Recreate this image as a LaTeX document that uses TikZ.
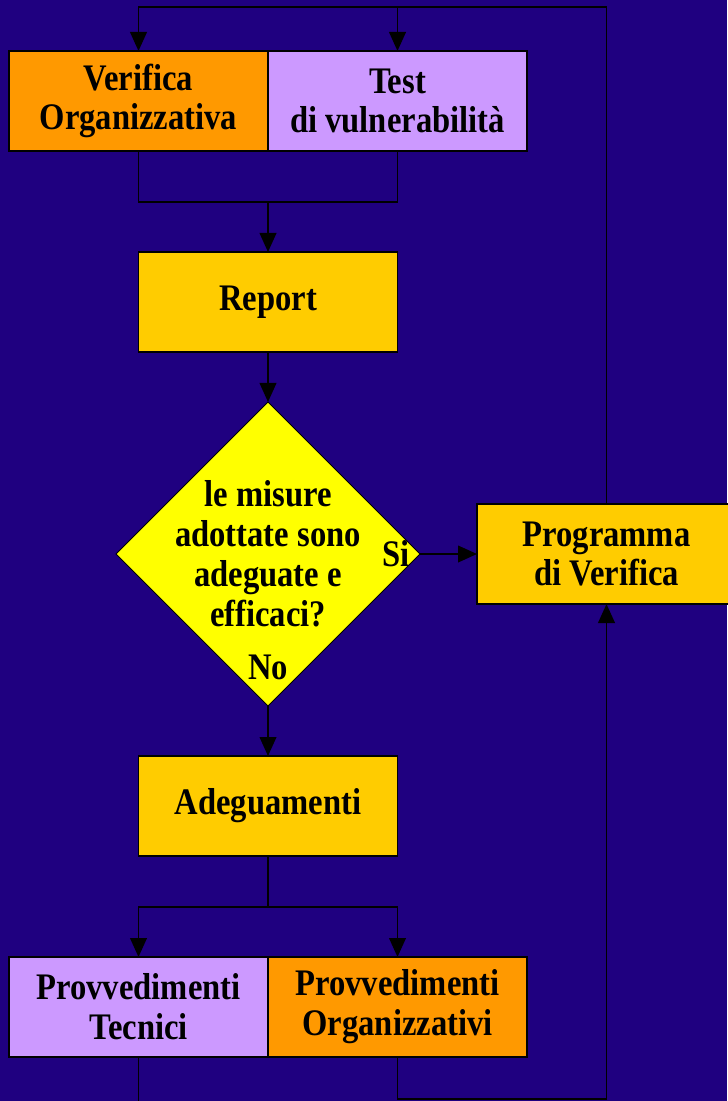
\documentclass[tikz,border=0pt]{standalone}
\usepackage{fontspec}
\setmainfont{Liberation Serif}[FakeStretch=0.87]
\usetikzlibrary{positioning}
\usetikzlibrary{calc}
\usetikzlibrary{shapes.geometric}
\usetikzlibrary{arrows.meta}

\definecolor{bgblue}{RGB}{31,0,128}
\definecolor{orangebox}{RGB}{255,153,0}
\definecolor{lilacbox}{RGB}{204,153,255}
\definecolor{goldbox}{RGB}{255,204,0}
\definecolor{yellowbox}{RGB}{255,255,0}

\begin{document}
\begin{tikzpicture}
	\tikzstyle{elem} = [rectangle, minimum width=7.77cm, minimum height=3cm, align=center, draw=black, line width=1.6pt, inner sep=0pt, outer sep=0pt, font=\fontsize{32}{34}\selectfont\bfseries]
	\tikzstyle{decision} = [diamond, aspect=1, minimum width=9.12cm, minimum height=9.12cm, inner sep=0pt, outer sep=0pt, draw=black, line width=0.8pt, fill=yellowbox]
	\tikzstyle{lbl} = [inner sep=0pt, align=center, font=\fontsize{32}{34}\selectfont\bfseries]
	\tikzstyle{conn} = [line width=1.6pt, draw=black]
	\tikzstyle{arr} = [conn, -{Triangle[length=0.57cm, width=0.5cm]}]

	\fill[bgblue] (0,0) rectangle (21.81,-33.03);
	\useasboundingbox (0,0) rectangle (21.81,-33.03);

	\node (verOrg) [elem, fill=orangebox] at (4.155,-3.03) {Verifica \\ Organizzativa};
	\node (testVuln) [elem, fill=lilacbox, right=0pt of verOrg] {Test \\ di vulnerabilità};
	\node (report) [elem, fill=goldbox, below=3.03cm of verOrg.south east] {Report};
	\node (check) [decision, below=1.5cm of report] {};
	\node (question) [lbl] at (check) {le misure \\ adottate sono \\ adeguate e \\ efficaci?};
	\node (si) [lbl, left=0.3cm of check.east] {Si};
	\node (no) [lbl, above=0.78cm of check.south] {No};
	\node (progVer) [elem, fill=goldbox, right=1.71cm of check] {Programma \\ di Verifica};
	\node (adeg) [elem, fill=goldbox, below=1.5cm of check] {Adeguamenti};
	\node (provTec) [elem, fill=lilacbox, below left=3.03cm and 0cm of adeg.south] {Provvedimenti \\ Tecnici};
	\node (provOrg) [elem, fill=orangebox, right=0pt of provTec] {Provvedimenti \\ Organizzativi};

	\coordinate (loopTop) at ($(verOrg.north)+(0,1.32)$);
	\coordinate (joinA) at ($(report.north)+(0,1.5)$);
	\coordinate (splitB) at ($(adeg.south)+(0,-1.53)$);
	\coordinate (loopBot) at ($(provOrg.south)+(0,-1.26)$);

	% feedback to the two checks
	\draw [arr] (progVer.north) |- (verOrg.north |- loopTop) -- (verOrg.north);
	\draw [arr] (testVuln.north |- loopTop) -- (testVuln.north);
	\draw [conn] (verOrg.south) |- (joinA) -| (testVuln.south);
	\draw [arr] (joinA) -- (report.north);
	\draw [arr] (report) -- (check);
	\draw [arr] (check.east) -- (progVer.west);
	\draw [arr] (check) -- (adeg);
	\draw [conn] (adeg.south) -- (splitB);
	\draw [arr] (splitB) -| (provTec.north);
	\draw [arr] (splitB) -| (provOrg.north);
	\draw [conn] (provTec.south) -- ++(0,-1.5);
	\draw [arr] (provOrg.south) |- (progVer.south |- loopBot) -- (progVer.south);
\end{tikzpicture}
\end{document}
